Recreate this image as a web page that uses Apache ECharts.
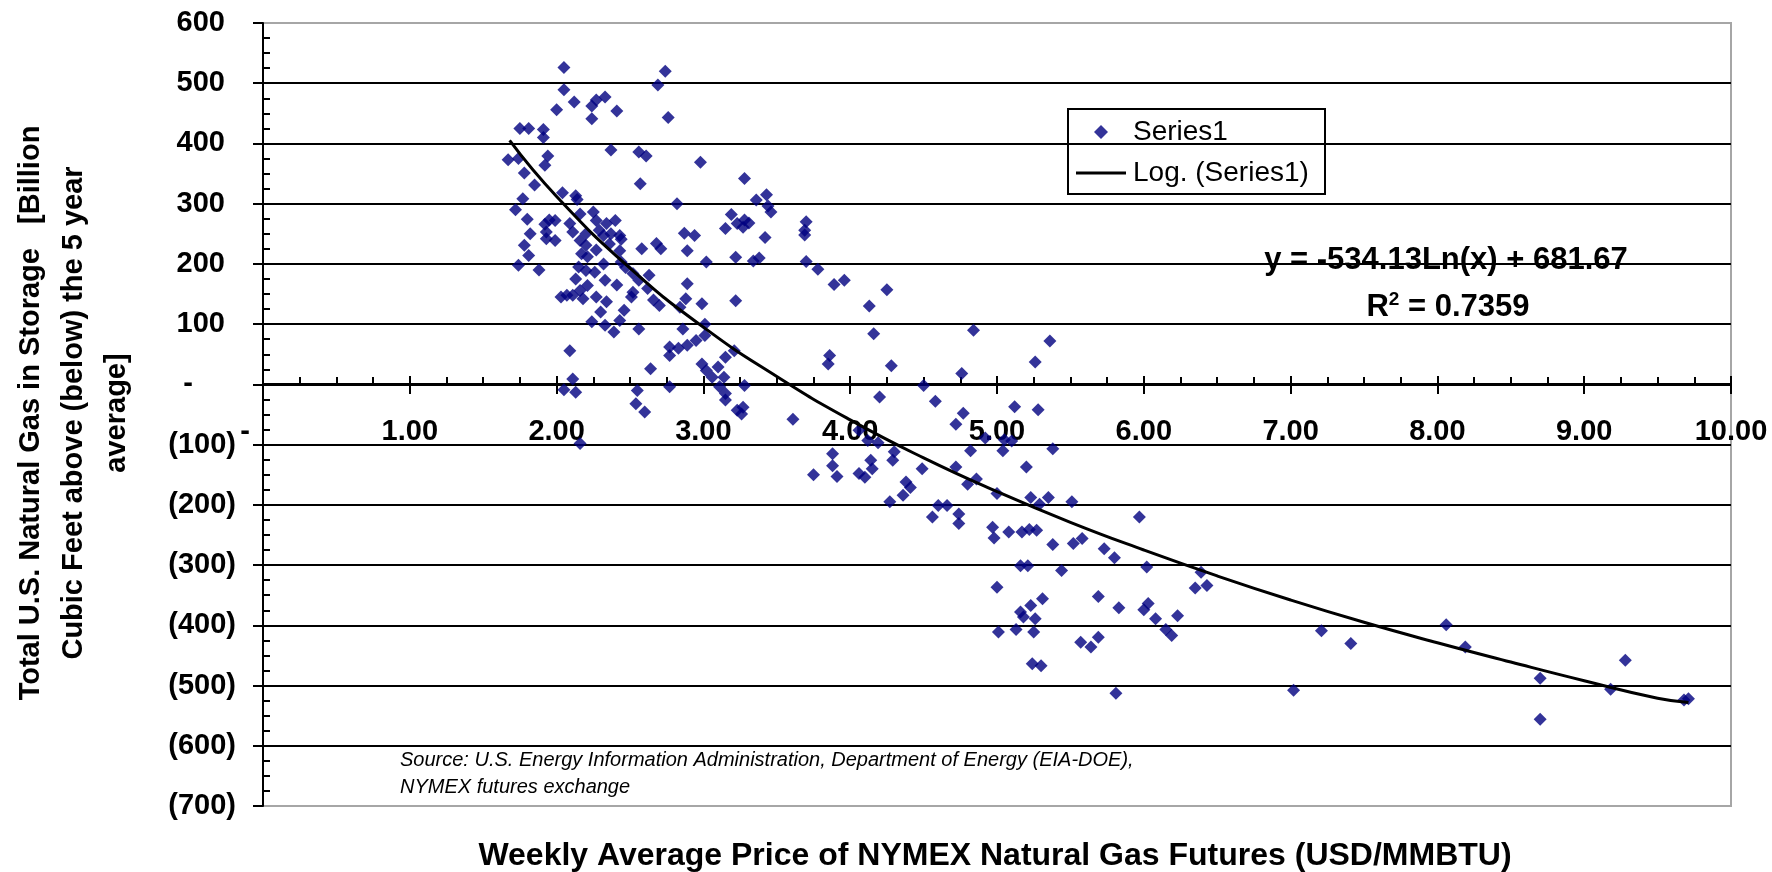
<!DOCTYPE html>
<html lang="en">
<head>
  <meta charset="UTF-8">
  <title>Storage vs NYMEX price</title>
  <script src="https://cdn.jsdelivr.net/npm/echarts@6/dist/echarts.min.js"></script>
  <style>
    html, body { margin: 0; padding: 0; background: #fff; }
    #wrap { width: 1772px; height: 872px; }
  </style>
</head>
<body>
<div id="wrap"></div>
<script>
  // weekly average NYMEX price (USD/MMBTU) and storage vs 5 year average (Bcf)
  const priceX = [
    2.05, 2.05, 2.12, 2.00, 2.24, 2.27, 2.33, 2.24, 2.41, 2.74, 2.69, 2.76, 1.75, 1.81, 1.91, 1.91,
    1.67, 1.74, 1.94, 1.92, 1.78, 1.85, 2.37, 2.56, 2.61, 2.98, 2.57, 1.77, 2.04, 2.13, 2.14, 2.82,
    1.72, 1.80, 1.95, 1.92, 3.19, 3.15, 2.87, 2.94, 2.09, 2.16, 2.25, 2.27, 2.34, 2.40, 2.20, 2.29,
    2.43, 1.82, 1.93, 1.99, 1.78, 1.81, 1.74, 1.88, 1.93, 1.99, 2.11, 2.16, 2.20, 2.17, 2.21, 2.27,
    2.32, 2.37, 2.44, 2.36, 2.43, 2.32, 2.15, 2.20, 2.26, 2.13, 2.21, 2.16, 2.11, 2.03, 2.07, 2.18,
    2.27, 2.33, 2.41, 2.34, 2.30, 2.24, 2.33, 2.39, 2.43, 2.46, 2.51, 2.52, 2.47, 2.44, 2.56, 2.52,
    2.58, 2.63, 2.62, 2.66, 2.70, 2.68, 2.71, 2.56, 2.89, 3.02, 2.89, 2.88, 2.99, 2.84, 3.22, 3.22,
    2.86, 3.01, 2.95, 2.89, 2.77, 2.83, 2.77, 3.01, 3.15, 3.21, 2.99, 3.02, 3.10, 3.06, 3.14, 2.64,
    2.09, 2.11, 2.05, 2.13, 2.16, 2.55, 2.54, 2.60, 2.77, 3.11, 3.15, 3.15, 3.23, 3.28, 3.36, 3.43,
    3.44, 3.46, 3.23, 3.28, 3.31, 3.27, 3.42, 3.34, 3.38, 3.70, 3.69, 3.69, 3.70, 3.78, 3.89, 3.96,
    4.13, 4.25, 4.16, 4.84, 3.28, 3.27, 3.26, 3.61, 3.86, 3.85, 4.28, 4.20, 4.50, 4.58, 4.76, 4.77,
    4.72, 5.12, 4.92, 5.05, 5.10, 4.82, 5.04, 4.12, 4.19, 4.06, 4.30, 4.29, 3.88, 3.88, 3.91, 3.75,
    4.06, 4.10, 4.14, 4.15, 4.38, 4.41, 4.36, 4.27, 4.49, 4.72, 4.80, 4.86, 5.00, 4.60, 4.66, 4.56,
    4.74, 4.74, 4.97, 4.98, 5.08, 5.26, 5.28, 5.20, 5.38, 5.23, 5.29, 5.35, 5.51, 5.97, 5.17, 5.22,
    5.27, 5.38, 5.52, 5.58, 5.73, 5.80, 5.16, 5.21, 5.44, 6.02, 5.36, 5.00, 5.31, 5.23, 5.16, 5.18,
    5.26, 5.01, 5.13, 5.25, 5.69, 5.83, 6.00, 6.03, 6.08, 6.23, 6.15, 6.19, 5.57, 5.64, 5.69, 5.24,
    5.30, 5.81, 6.39, 6.35, 6.43, 7.02, 7.21, 7.41, 8.06, 8.19, 8.70, 8.70, 9.18, 9.28, 9.71, 9.68
  ]
  const storageY = [
    526, 489, 469, 456, 462, 472, 477, 441, 454, 520, 497, 443, 425, 425, 423, 410,
    373, 375, 379, 364, 351, 331, 389, 386, 379, 369, 333, 308, 318, 313, 307, 300,
    290, 274, 273, 266, 282, 259, 251, 247, 267, 283, 286, 272, 267, 272, 250, 256,
    247, 250, 253, 272, 231, 214, 198, 190, 242, 239, 253, 239, 231, 217, 212, 223,
    247, 250, 241, 233, 222, 200, 195, 189, 186, 175, 164, 156, 148, 145, 148, 142,
    145, 173, 165, 137, 120, 104, 98, 87, 106, 123, 145, 153, 194, 203, 173, 184,
    225, 181, 159, 140, 131, 234, 225, 92, 222, 203, 167, 142, 134, 128, 211, 139,
    92, 100, 73, 65, 62, 60, 48, 81, 45, 56, 34, 23, 29, 12, 12, 26,
    56, 9, -9, -13, -98, -10, -32, -46, -4, -4, -15, -26, -43, 342, 306, 315,
    296, 286, 267, 273, 268, 261, 244, 205, 210, 270, 256, 248, 204, 191, 166, 173,
    130, 157, 84, 90, -2, -38, -49, -58, 48, 34, 31, -21, -2, -28, 18, -48,
    -66, -37, -89, -92, -94, -110, -110, -93, -97, -76, -112, -126, -115, -135, -153, -150,
    -148, -154, -126, -140, -162, -171, -184, -195, -140, -137, -166, -157, -181, -201, -201, -220,
    -215, -231, -237, -255, -245, 37, -42, -137, -107, -188, -199, -188, -195, -220, -245, -241,
    -242, -266, -264, -256, -273, -288, -301, -301, -309, -303, 72, -337, -356, -367, -378, -386,
    -389, -411, -407, -411, -352, -371, -374, -364, -389, -384, -407, -417, -428, -436, -420, -464,
    -467, -513, -312, -338, -334, -508, -409, -430, -399, -436, -488, -556, -506, -458, -522, -524
  ]

  // logarithmic trend line as drawn in the picture
  const trendX = [1.68, 2, 2.5, 3, 3.5, 4, 4.5, 5, 5.5, 6, 6.5, 7, 7.5, 8, 8.5, 9, 9.5, 9.71]
  const trendY = [405, 312, 193, 95, 13, -59, -122, -178, -229, -275, -318, -358, -395, -429, -461, -492, -521, -528]

  const xTicks = [0, 1, 2, 3, 4, 5, 6, 7, 8, 9, 10]
  const yTicks = [-700, -600, -500, -400, -300, -200, -100, 0, 100, 200, 300, 400, 500, 600]

  const font = 'Liberation Sans, Arial, sans-serif'
  const tickSize = 29

  const chart = echarts.init(document.querySelector('#wrap'), null, { renderer: 'canvas' })

  // grid lines: black inside, grey at the plot edges
  const splitColors = yTicks.map((v, i) => (i === 0 || i === yTicks.length - 1) ? '#a6a6a6' : '#000')

  const legendText = { fontFamily: font, fontSize: 28, color: '#000', lineHeight: 30 }

  // the price axis sits on the zero line: a second grid ends exactly there
  const zeroY = 384
  const xMin = xTicks[0]
  const xMax = xTicks[xTicks.length - 1]

  const ops = {
    animation: false,
    backgroundColor: '#fff',
    grid: [
      {
        left: 263, top: 23, right: 41, bottom: 66,
        show: true, borderColor: '#a6a6a6', borderWidth: 2, backgroundColor: 'transparent'
      },
      { left: 263, top: 23, right: 41, height: zeroY - 23, show: false }
    ],
    legend: [
      {
        selectedMode: false,
        left: 1094, top: 117, padding: 0,
        itemWidth: 14, itemHeight: 14,
        textStyle: Object.assign({ padding: [0, 0, 0, 20] }, legendText),
        data: [{ name: 'Series1', icon: 'diamond' }]
      },
      {
        selectedMode: false,
        left: 1076, top: 158, padding: 0,
        itemWidth: 50, itemHeight: 3,
        textStyle: Object.assign({ padding: [0, 0, 0, 2] }, legendText),
        data: [{ name: 'Log. (Series1)', icon: 'rect' }]
      }
    ],
    xAxis: [
      {
        // scale for the marks only
        gridIndex: 0, type: 'value', min: xMin, max: xMax, interval: 1,
        axisLine: { show: false }, axisTick: { show: false }, axisLabel: { show: false },
        splitLine: { show: false }
      },
      {
        gridIndex: 1, type: 'value', min: xMin, max: xMax, interval: 1,
        position: 'bottom',
        axisLine: { onZero: false, lineStyle: { color: '#000', width: 2 } },
        axisTick: { show: true, length: 10, lineStyle: { color: '#000', width: 2 } },
        splitLine: { show: false },
        axisLabel: {
          margin: 33, color: '#000', fontFamily: font, fontSize: tickSize, fontWeight: 'bold',
          formatter: v => v === 0 ? '{z|-}' : v.toFixed(2),
          rich: { z: { fontFamily: font, fontSize: tickSize, fontWeight: 'bold', padding: [0, 36, 0, 0] } }
        }
      },
      {
        // ticks above the zero line
        gridIndex: 1, type: 'value', min: xMin, max: xMax, interval: 1,
        position: 'bottom',
        axisLine: { show: false, onZero: false },
        axisTick: { show: true, inside: true, length: 8, lineStyle: { color: '#000', width: 2 } },
        minorTick: { show: true, splitNumber: 4, length: 7, lineStyle: { color: '#000', width: 2 } },
        splitLine: { show: false },
        axisLabel: { show: false }
      }
    ],
    yAxis: [
      {
        gridIndex: 0, type: 'value', min: yTicks[0], max: yTicks[yTicks.length - 1], interval: 100,
        position: 'left',
        axisLine: { show: true, onZero: false, lineStyle: { color: '#000', width: 2 } },
        axisTick: { show: true, length: 10, lineStyle: { color: '#000', width: 2 } },
        splitLine: { show: true, lineStyle: { color: splitColors, width: 2 } },
        axisLabel: {
          margin: 27, color: '#000', fontFamily: font, fontSize: tickSize, fontWeight: 'bold',
          formatter: v => v === 0 ? '{z|-}' : (v < 0 ? '(' + (-v) + ')' : '{p|' + v + '}'),
          rich: {
            z: { fontFamily: font, fontSize: tickSize, fontWeight: 'bold', padding: [0, 43, 0, 0] },
            p: { fontFamily: font, fontSize: tickSize, fontWeight: 'bold', padding: [0, 11, 0, 0] }
          }
        }
      },
      {
        // small ticks inside the plot
        gridIndex: 0, type: 'value', min: yTicks[0], max: yTicks[yTicks.length - 1], interval: 100,
        position: 'left',
        axisLine: { show: false, onZero: false },
        axisTick: { show: false, inside: true },
        minorTick: { show: true, splitNumber: 4, length: 7, lineStyle: { color: '#000', width: 2 } },
        splitLine: { show: false },
        axisLabel: { show: false }
      },
      {
        gridIndex: 1, type: 'value', min: 0, max: 1, show: false
      }
    ],
    series: [
      {
        name: 'Series1',
        type: 'scatter',
        symbol: 'diamond',
        symbolSize: 13,
        itemStyle: { color: '#000080' },
        data: priceX.map((x, i) => [x, storageY[i]]),
        z: 3
      },
      {
        name: 'Log. (Series1)',
        type: 'line',
        symbol: 'none',
        smooth: true,
        lineStyle: { color: '#000', width: 3 },
        itemStyle: { color: '#000' },
        data: trendX.map((x, i) => [x, trendY[i]]),
        z: 4
      }
    ],
    graphic: [
      {
        type: 'rect', left: 1067, top: 108, z: -1,
        shape: { width: 257, height: 85 },
        style: { fill: '#fff', stroke: '#000', lineWidth: 2 }
      },
      {
        type: 'text', x: 1446, y: 260, z: 10,
        style: {
          text: 'y = -534.13Ln(x) + 681.67', fontFamily: font, fontSize: 31, fontWeight: 'bold',
          fill: '#000', align: 'center', verticalAlign: 'middle'
        }
      },
      {
        type: 'text', x: 1448, y: 307, z: 10,
        style: {
          text: 'R{s|2} = 0.7359', fontFamily: font, fontSize: 31, fontWeight: 'bold',
          fill: '#000', align: 'center', verticalAlign: 'middle',
          rich: { s: { fontFamily: font, fontSize: 19, fontWeight: 'bold', padding: [0, 0, 14, 0] } }
        }
      },
      {
        type: 'text', x: 400, y: 747, z: 10,
        style: {
          text: 'Source: U.S. Energy Information Administration, Department of Energy (EIA-DOE),\nNYMEX futures exchange',
          fontFamily: font, fontSize: 20, fontStyle: 'italic', fill: '#000', lineHeight: 27
        }
      },
      {
        type: 'text', x: 995, y: 856, z: 10,
        style: {
          text: 'Weekly Average Price of NYMEX Natural Gas Futures (USD/MMBTU)',
          fontFamily: font, fontSize: 32, fontWeight: 'bold', fill: '#000',
          align: 'center', verticalAlign: 'middle'
        }
      },
      {
        type: 'text', x: 74, y: 413, rotation: Math.PI / 2, z: 10,
        style: {
          text: 'Total U.S. Natural Gas in Storage   [Billion\nCubic Feet above (below) the 5 year\naverage]',
          fontFamily: font, fontSize: 29, fontWeight: 'bold', fill: '#000',
          align: 'center', verticalAlign: 'middle', lineHeight: 43
        }
      }
    ]
  }

  chart.setOption(ops)
</script>
</body>
</html>
